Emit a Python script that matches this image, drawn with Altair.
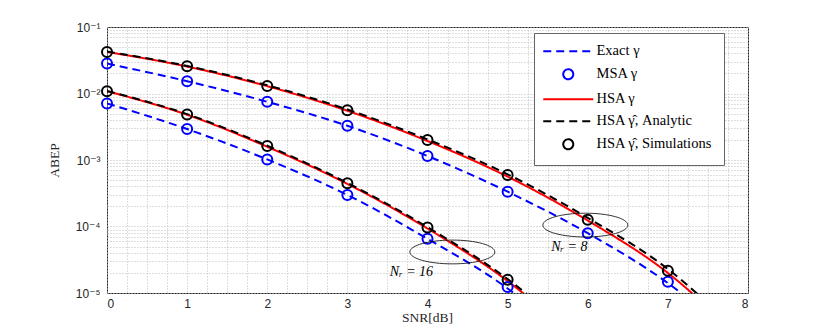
import altair as alt
import pandas as pd

# ---------------- data ----------------
series_names = ["Exact γ", "MSA γ", "HSA γ", "HSA γ̂, Analytic", "HSA γ̂, Simulations"]

# analytic curves, N_r = 8
snr_line_8 = [0, 1, 2, 3, 4, 5, 6, 7, 8]
exact_8 = [0.0282, 0.0153, 0.0075, 0.00327, 0.00115, 3.34e-4, 7.94e-5, 1.41e-5, 1.41e-6]
hsa_8 = [0.0422, 0.0254, 0.0129, 0.0055, 0.00193, 5.62e-4, 1.23e-4, 2.0e-5, 1.58e-6]
hsa_hat_8 = [0.0427, 0.0260, 0.0133, 0.00575, 0.00204, 6.1e-4, 1.35e-4, 2.29e-5, 1.82e-6]

# analytic curves, N_r = 16
snr_line_16 = [0, 1, 2, 3, 4, 5, 6]
exact_16 = [0.0071, 0.00292, 0.00102, 2.98e-4, 6.53e-5, 1.17e-5, 1.12e-6]
hsa_16 = [0.01084, 0.00479, 0.00158, 4.37e-4, 9.33e-5, 1.51e-5, 1.41e-6]
hsa_hat_16 = [0.01096, 0.0049, 0.00164, 4.52e-4, 9.77e-5, 1.62e-5, 1.58e-6]

# markers
snr_pts_8 = [0, 1, 2, 3, 4, 5, 6, 7]
msa_8 = [0.0282, 0.0153, 0.0075, 0.00327, 0.00115, 3.34e-4, 7.9e-5, 1.48e-5]
sim_8 = [0.0422, 0.0257, 0.0130, 0.00562, 0.00200, 5.96e-4, 1.26e-4, 2.16e-5]
snr_pts_16 = [0, 1, 2, 3, 4, 5]
msa_16 = [0.0071, 0.00292, 0.00102, 2.98e-4, 6.53e-5, 1.23e-5]
sim_16 = [0.01084, 0.00485, 0.00162, 4.47e-4, 9.64e-5, 1.58e-5]

# annotations
ellipse_snr = [4.31, 5.97]
ellipse_abep = [4.14e-5, 1.05e-4]
note_snr = [3.80, 5.77]
note_abep = [2.07e-5, 4.92e-5]
note_text = ["Nᵣ = 16", "Nᵣ = 8"]

x_ticks = [i / 4 for i in range(33)]
y_ticks = [m * 10.0 ** e for e in range(-5, -1) for m in range(1, 10)] + [0.1]
y_labels = ["10⁻⁵", "10⁻⁴", "10⁻³", "10⁻²", "10⁻¹"]

# ---------------- tables ----------------
rows = []
for nr, xs, curves in [("8", snr_line_8, [exact_8, hsa_8, hsa_hat_8]),
                       ("16", snr_line_16, [exact_16, hsa_16, hsa_hat_16])]:
    for name, ys in zip([series_names[0], series_names[2], series_names[3]], curves):
        for x, y in zip(xs, ys):
            rows.append({"snr": x, "abep": y, "series": name, "nr": nr})
lines_df = pd.DataFrame(rows)

rows = []
for nr, xs, curves in [("8", snr_pts_8, [msa_8, sim_8]), ("16", snr_pts_16, [msa_16, sim_16])]:
    for name, ys in zip([series_names[1], series_names[4]], curves):
        for x, y in zip(xs, ys):
            rows.append({"snr": x, "abep": y, "series": name, "nr": nr})
pts_df = pd.DataFrame(rows)

ell_df = pd.DataFrame({"snr": ellipse_snr, "abep": ellipse_abep})
note_df = pd.DataFrame({"snr": note_snr, "abep": note_abep, "text": note_text})

# ---------------- styling ----------------
SERIF = "Liberation Serif"
SANS = "Liberation Sans, DejaVu Sans"
LINE_PATH = "M-5,0H5"
CIRCLE_PATH = "M-1,0A1,1 0 1,0 1,0A1,1 0 1,0 -1,0Z"
ELLIPSE_PATH = "M-1,0A1,0.28 0 1,0 1,0A1,0.28 0 1,0 -1,0Z"

color_scale = alt.Scale(domain=series_names,
                        range=["#0000ff", "#0000ff", "#ff0000", "#000000", "#000000"])
shape_scale = alt.Scale(domain=series_names,
                        range=[LINE_PATH, CIRCLE_PATH, LINE_PATH, LINE_PATH, CIRCLE_PATH])
dash_scale = alt.Scale(domain=series_names,
                       range=[[8, 5], [1, 0], [1, 0], [8, 5], [1, 0]])

legend = alt.Legend(orient="none", legendX=427, legendY=6, title=None,
                    symbolSize=100, symbolStrokeWidth=2, symbolOffset=16,
                    labelOffset=21, labelFont=SERIF, labelFontSize=14.5,
                    labelColor="#000000", rowPadding=7, padding=11,
                    strokeColor="#666666", fillColor="#ffffff", labelLimit=300)

xscale = alt.Scale(domain=[0, 8], nice=False, zero=False)
yscale = alt.Scale(type="log", domain=[1e-5, 0.1], nice=False)

label_expr_y = ("abs(datum.value - pow(10, round(log(datum.value)/LN10))) < datum.value*1e-6 ? "
                + str(y_labels).replace('"', "'")
                + "[round(log(datum.value)/LN10)+5] : ''")

xaxis = alt.Axis(values=x_ticks,
                 labelExpr="datum.value % 1 === 0 ? format(datum.value, 'd') : ''",
                 grid=True, ticks=False, domain=False, labelPadding=5,
                 titleX=320, titleY=24, titleBaseline="middle")
yaxis = alt.Axis(values=y_ticks, labelExpr=label_expr_y, grid=True, ticks=False,
                 domain=False, labelPadding=7, titleX=-53, titleY=133,
                 titleBaseline="middle")

X = alt.X("snr:Q", scale=xscale, axis=xaxis, title="SNR[dB]")
Y = alt.Y("abep:Q", scale=yscale, axis=yaxis, title="ABEP")

lines = alt.Chart(lines_df).mark_line(clip=True, strokeWidth=2, interpolate="monotone",
                                      opacity=1).encode(
    x=X, y=Y,
    color=alt.Color("series:N", scale=color_scale, legend=legend, title=None),
    strokeDash=alt.StrokeDash("series:N", scale=dash_scale, legend=legend, title=None),
    detail="nr:N",
)

points = alt.Chart(pts_df).mark_point(filled=False, strokeWidth=2, size=100, opacity=1,
                                      clip=False).encode(
    x=X, y=Y,
    color=alt.Color("series:N", scale=color_scale, legend=legend, title=None),
    shape=alt.Shape("series:N", scale=shape_scale, legend=legend, title=None),
    detail="nr:N",
)

ellipses = alt.Chart(ell_df).mark_point(shape=ELLIPSE_PATH, size=7225, filled=False,
                                        stroke="#000000", strokeWidth=0.8,
                                        opacity=1).encode(x=X, y=Y)

notes = alt.Chart(note_df).mark_text(font=SERIF, fontSize=14, fontStyle="italic",
                                     color="#000000").encode(x=X, y=Y, text="text:N")

chart = alt.layer(lines, points, ellipses, notes).properties(
    width=641, height=266,
    autosize=alt.AutoSizeParams(type="none"),
    padding={"left": 99, "top": 19, "right": 70, "bottom": 34},
).configure_view(stroke="#262626", strokeWidth=1).configure_axis(
    gridDash=[1, 2], gridColor="#bdbdbd", gridWidth=1,
    labelFont=SANS, labelFontSize=12, labelColor="#262626",
    titleFont=SERIF, titleFontSize=13.5, titleFontWeight="normal", titleColor="#262626",
)

chart.save("out.html", embed_options={"renderer": "svg", "actions": False})
